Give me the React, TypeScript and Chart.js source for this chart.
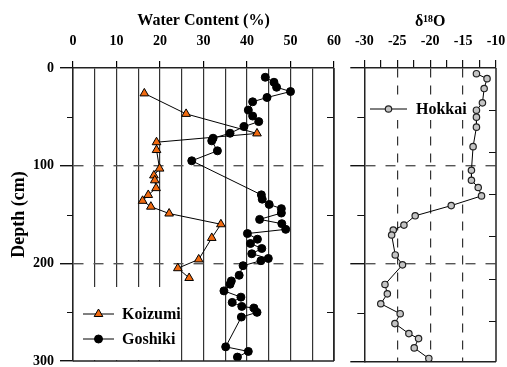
import React, { useEffect, useRef } from 'react';
import { Chart, registerables } from 'chart.js';
import { drawPoint } from 'chart.js/helpers';

Chart.register(...registerables);

// ---------- data ----------
const koizumiDepth = [26, 47, 67, 76, 84, 103, 110, 115, 123, 130, 136, 142, 149, 160, 174, 196, 205, 215];
const koizumiWC = [16.4, 26.0, 42.3, 19.2, 19.2, 19.9, 18.6, 18.8, 19.1, 17.3, 16.0, 17.9, 22.1, 34.0, 31.9, 28.9, 24.1, 26.7];

const goshikiDepth = [9.5, 14.6, 19.7, 24.1, 30.2, 34.6, 43.1, 49.2, 54.9, 60, 66.8, 71.9, 74.6, 84.8, 95, 129.9, 134.3, 139.7, 144, 148.5, 155, 159.4, 165.2, 169.5, 175.3, 179.7, 184.8, 190.2, 195, 197.3, 202.4, 212.2, 218, 221.4, 228.2, 234.6, 240, 244.1, 245.8, 250.2, 255, 285.5, 290.2, 296];
const goshikiWC = [44.2, 46.2, 46.8, 50.0, 44.6, 41.3, 40.3, 41.3, 42.7, 39.3, 36.1, 32.2, 31.9, 33.2, 27.3, 43.3, 43.5, 45.1, 47.9, 47.9, 42.9, 48.0, 48.9, 40.1, 42.4, 40.8, 43.4, 41.1, 44.9, 43.2, 39.1, 38.2, 36.4, 36.1, 34.7, 38.6, 36.6, 38.8, 41.6, 42.3, 38.7, 35.1, 40.3, 37.8];

const hokkaiDepth = [5.8, 10.9, 21, 35.6, 43.1, 50.2, 60.4, 80.3, 104.4, 114.6, 122, 130.6, 140.5, 150.9, 160.4, 165.5, 170.5, 190.9, 201, 221, 230.6, 240.7, 250.9, 261, 271.2, 276.3, 285.8, 296.6];
const hokkaiD18O = [-12.97, -11.36, -11.8, -12.06, -12.97, -12.97, -12.97, -13.48, -13.73, -13.73, -12.7, -12.2, -16.8, -22.27, -23.98, -25.6, -25.85, -25.3, -24.2, -26.86, -26.5, -27.5, -24.55, -25.35, -23.23, -21.76, -22.42, -20.2];

const wcMin = 0, wcMax = 60, wcStep = 5, wcLabelStep = 10;
const d18OMin = -30, d18OMax = -10, d18OStep = 2.5, d18OLabelStep = 5;
const d18ODashed = [-25, -20, -15];
const depthMin = 0, depthMax = 300, depthLabelStep = 100;
const depthMinorTicks = [50, 150, 250];
const depthDashed = [100, 200];
const rightAxisTickDepths = [43, 86, 129, 172, 215, 258];

const FONT = "'Liberation Serif', 'Times New Roman', serif";
const TRANSPARENT = 'rgba(0,0,0,0)';

const koizumiStyle = { pointStyle: 'triangle', radius: 5, fill: '#F06A10', stroke: '#000', borderWidth: 1 };
const goshikiStyle = { pointStyle: 'circle', radius: 4, fill: '#000', stroke: '#000', borderWidth: 1 };
const hokkaiStyle = { pointStyle: 'circle', radius: 3.2, fill: '#c4c4c4', stroke: '#222', borderWidth: 1.2 };

const isMult = (v: number, m: number) => {
  const r = Math.abs(v % m);
  return r < 1e-6 || Math.abs(r - m) < 1e-6;
};

function hline(ctx: CanvasRenderingContext2D, x1: number, x2: number, y: number) {
  ctx.beginPath(); ctx.moveTo(x1, y); ctx.lineTo(x2, y); ctx.stroke();
}
function vline(ctx: CanvasRenderingContext2D, x: number, y1: number, y2: number) {
  ctx.beginPath(); ctx.moveTo(x, y1); ctx.lineTo(x, y2); ctx.stroke();
}

function legendItem(ctx: CanvasRenderingContext2D, st: any, x1: number, x2: number, y: number, tx: number, label: string) {
  ctx.save();
  ctx.strokeStyle = '#000'; ctx.lineWidth = 1; ctx.setLineDash([]);
  hline(ctx, x1, x2, y);
  ctx.fillStyle = st.fill; ctx.strokeStyle = st.stroke; ctx.lineWidth = st.borderWidth;
  drawPoint(ctx, { pointStyle: st.pointStyle, radius: st.radius, rotation: 0, borderWidth: st.borderWidth } as any, (x1 + x2) / 2, y);
  ctx.fillStyle = '#000';
  ctx.font = `bold 16px ${FONT}`;
  ctx.textBaseline = 'middle';
  ctx.textAlign = 'left';
  ctx.fillText(label, tx, y + 1);
  ctx.restore();
}

const leftExtras = {
  id: 'leftExtras',
  afterDatasetsDraw(chart: any) {
    const { ctx, chartArea: a, scales } = chart;
    const y = scales.y;
    ctx.save();
    ctx.setLineDash([]);
    ctx.strokeStyle = '#111'; ctx.lineWidth = 1;
    for (const d of depthMinorTicks) {
      const py = Math.round(y.getPixelForValue(d)) + 0.5;
      hline(ctx, a.left - 6, a.left, py);
      hline(ctx, a.right - 7, a.right, py);
    }
    ctx.lineWidth = 1.5; ctx.strokeStyle = '#222';
    hline(ctx, a.left, a.right, a.bottom);
    vline(ctx, a.right, a.top, a.bottom);
    // legend box
    ctx.fillStyle = '#fff';
    ctx.fillRect(a.left + 1, 287, 105, a.bottom - 287 - 1);
    ctx.restore();
    legendItem(ctx, koizumiStyle, 83, 114, 314, 122, 'Koizumi');
    legendItem(ctx, goshikiStyle, 83, 114, 339, 122, 'Goshiki');
  },
};

const rightExtras = {
  id: 'rightExtras',
  afterDatasetsDraw(chart: any) {
    const { ctx, chartArea: a, scales } = chart;
    const y = scales.y;
    ctx.save();
    ctx.setLineDash([]);
    ctx.strokeStyle = '#111'; ctx.lineWidth = 1;
    for (const d of depthMinorTicks) {
      const py = Math.round(y.getPixelForValue(d)) + 0.5;
      hline(ctx, a.left - 7, a.left, py);
    }
    for (const d of rightAxisTickDepths) {
      const py = Math.round(y.getPixelForValue(d)) + 0.5;
      hline(ctx, a.right - 7, a.right, py);
    }
    ctx.lineWidth = 1.5; ctx.strokeStyle = '#222';
    hline(ctx, a.left, a.right, a.bottom);
    vline(ctx, a.right, a.top, a.bottom);
    ctx.fillStyle = '#fff';
    ctx.fillRect(22, 98, 103, 22);
    ctx.restore();
    legendItem(ctx, hokkaiStyle, 25, 62, 109, 71, 'Hokkai');
  },
};

const tickFont = { family: FONT, size: 14, weight: 'bold' as const };

const fitTop = (s: any) => { s.height = 68; s.paddingLeft = 0; s.paddingRight = 0; };

function makeLeft(canvas: HTMLCanvasElement) {
  return new Chart(canvas, {
    type: 'scatter',
    data: {
      datasets: [
        {
          label: 'Koizumi',
          data: koizumiDepth.map((d, i) => ({ x: koizumiWC[i], y: d })),
          showLine: true,
          borderColor: '#000',
          borderWidth: 1,
          pointStyle: 'triangle',
          pointRadius: koizumiStyle.radius,
          pointBackgroundColor: koizumiStyle.fill,
          pointBorderColor: '#000',
          pointBorderWidth: 1,
        },
        {
          label: 'Goshiki',
          data: goshikiDepth.map((d, i) => ({ x: goshikiWC[i], y: d })),
          showLine: true,
          borderColor: '#000',
          borderWidth: 1,
          pointStyle: 'circle',
          pointRadius: goshikiStyle.radius,
          pointBackgroundColor: '#000',
          pointBorderColor: '#000',
          pointBorderWidth: 1,
        },
      ],
    },
    options: {
      responsive: false,
      animation: false,
      layout: { padding: { top: 0, left: 0, right: 11, bottom: 3.5 } },
      plugins: { legend: { display: false }, tooltip: { enabled: false } },
      scales: {
        x: {
          type: 'linear',
          position: 'top',
          min: wcMin,
          max: wcMax,
          ticks: {
            stepSize: wcStep,
            autoSkip: false,
            maxRotation: 0,
            padding: 11,
            color: '#000',
            font: tickFont,
            callback: (v: any) => (isMult(Number(v), wcLabelStep) ? String(v) : ''),
          },
          grid: {
            color: '#333',
            lineWidth: 1.2,
            drawTicks: true,
            tickLength: 7,
            tickColor: (c: any) => (c.tick && isMult(c.tick.value, wcLabelStep) ? '#000' : TRANSPARENT),
          },
          border: { display: true, color: '#222', width: 1.5 },
          title: {
            display: true,
            text: 'Water Content (%)',
            color: '#000',
            font: { family: FONT, size: 16, weight: 'bold' },
            padding: { top: 11, bottom: 0 },
          },
          afterFit: fitTop,
        } as any,
        y: {
          type: 'linear',
          position: 'left',
          min: depthMin,
          max: depthMax,
          reverse: true,
          ticks: {
            stepSize: 50,
            autoSkip: false,
            padding: 6,
            color: '#000',
            font: tickFont,
            callback: (v: any) => (isMult(Number(v), depthLabelStep) ? String(v) : ''),
          },
          grid: {
            color: (c: any) => (c.tick && depthDashed.includes(c.tick.value) ? '#555' : TRANSPARENT),
            lineWidth: 1.4,
            tickLength: 13,
            tickColor: (c: any) => (c.tick && isMult(c.tick.value, depthLabelStep) ? '#111' : TRANSPARENT),
          },
          border: {
            display: true,
            color: '#222',
            width: 1.5,
            dash: (c: any) => (c.tick && depthDashed.includes(c.tick.value) ? [10, 10] : []),
          },
          title: {
            display: true,
            text: 'Depth (cm)',
            color: '#000',
            font: { family: FONT, size: 18, weight: 'bold' },
            padding: { top: 9, bottom: 0 },
          },
          afterFit: (s: any) => { s.width = 73; s.paddingTop = 0; s.paddingBottom = 0; },
        } as any,
      },
    },
    plugins: [leftExtras],
  } as any);
}

function makeRight(canvas: HTMLCanvasElement) {
  return new Chart(canvas, {
    type: 'scatter',
    data: {
      datasets: [
        {
          label: 'Hokkai',
          data: hokkaiDepth.map((d, i) => ({ x: hokkaiD18O[i], y: d })),
          showLine: true,
          borderColor: '#000',
          borderWidth: 1,
          pointStyle: 'circle',
          pointRadius: hokkaiStyle.radius,
          pointBackgroundColor: hokkaiStyle.fill,
          pointBorderColor: hokkaiStyle.stroke,
          pointBorderWidth: hokkaiStyle.borderWidth,
        },
      ],
    },
    options: {
      responsive: false,
      animation: false,
      layout: { padding: { top: 0, left: 0, right: 11, bottom: 3.5 } },
      plugins: { legend: { display: false }, tooltip: { enabled: false } },
      scales: {
        x: {
          type: 'linear',
          position: 'top',
          min: d18OMin,
          max: d18OMax,
          ticks: {
            stepSize: d18OStep,
            autoSkip: false,
            maxRotation: 0,
            padding: 10,
            color: '#000',
            font: tickFont,
            callback: (v: any) => (isMult(Number(v), d18OLabelStep) ? String(v) : ''),
          },
          grid: {
            color: (c: any) => {
              if (!c.tick) return TRANSPARENT;
              const v = c.tick.value;
              if (d18ODashed.some((d) => Math.abs(d - v) < 1e-6)) return '#333';
              return TRANSPARENT;
            },
            lineWidth: 1.2,
            tickLength: 8,
            tickColor: '#111',
          },
          border: {
            display: true,
            color: '#222',
            width: 1.5,
            dash: [9, 8],
          },
          title: {
            display: true,
            text: 'δ¹⁸O',
            color: '#000',
            font: { family: FONT, size: 16, weight: 'bold' },
            padding: { top: 12, bottom: 0 },
          },
          afterFit: fitTop,
        } as any,
        y: {
          type: 'linear',
          position: 'left',
          min: depthMin,
          max: depthMax,
          reverse: true,
          ticks: { display: false, stepSize: 50, autoSkip: false },
          grid: {
            color: (c: any) => (c.tick && depthDashed.includes(c.tick.value) ? '#555' : TRANSPARENT),
            lineWidth: 1.4,
            tickLength: 14,
            tickColor: (c: any) => (c.tick && isMult(c.tick.value, depthLabelStep) ? '#111' : TRANSPARENT),
          },
          border: {
            display: true,
            color: '#222',
            width: 1.5,
            dash: (c: any) => (c.tick && depthDashed.includes(c.tick.value) ? [10, 10] : []),
          },
          afterFit: (s: any) => { s.width = 19.3; s.paddingTop = 0; s.paddingBottom = 0; },
        } as any,
      },
    },
    plugins: [rightExtras],
  } as any);
}

export default function App() {
  const leftRef = useRef<HTMLCanvasElement>(null);
  const rightRef = useRef<HTMLCanvasElement>(null);

  useEffect(() => {
    const l = makeLeft(leftRef.current!);
    const r = makeRight(rightRef.current!);
    return () => { l.destroy(); r.destroy(); };
  }, []);

  return (
    <div style={{ position: 'fixed', left: 0, top: 0, width: 507, height: 367, background: '#fff', overflow: 'hidden' }}>
      <canvas ref={leftRef} width={345} height={367} style={{ position: 'absolute', left: 0, top: 0, width: 345, height: 367 }} />
      <canvas ref={rightRef} width={162} height={367} style={{ position: 'absolute', left: 345, top: 0, width: 162, height: 367 }} />
    </div>
  );
}
